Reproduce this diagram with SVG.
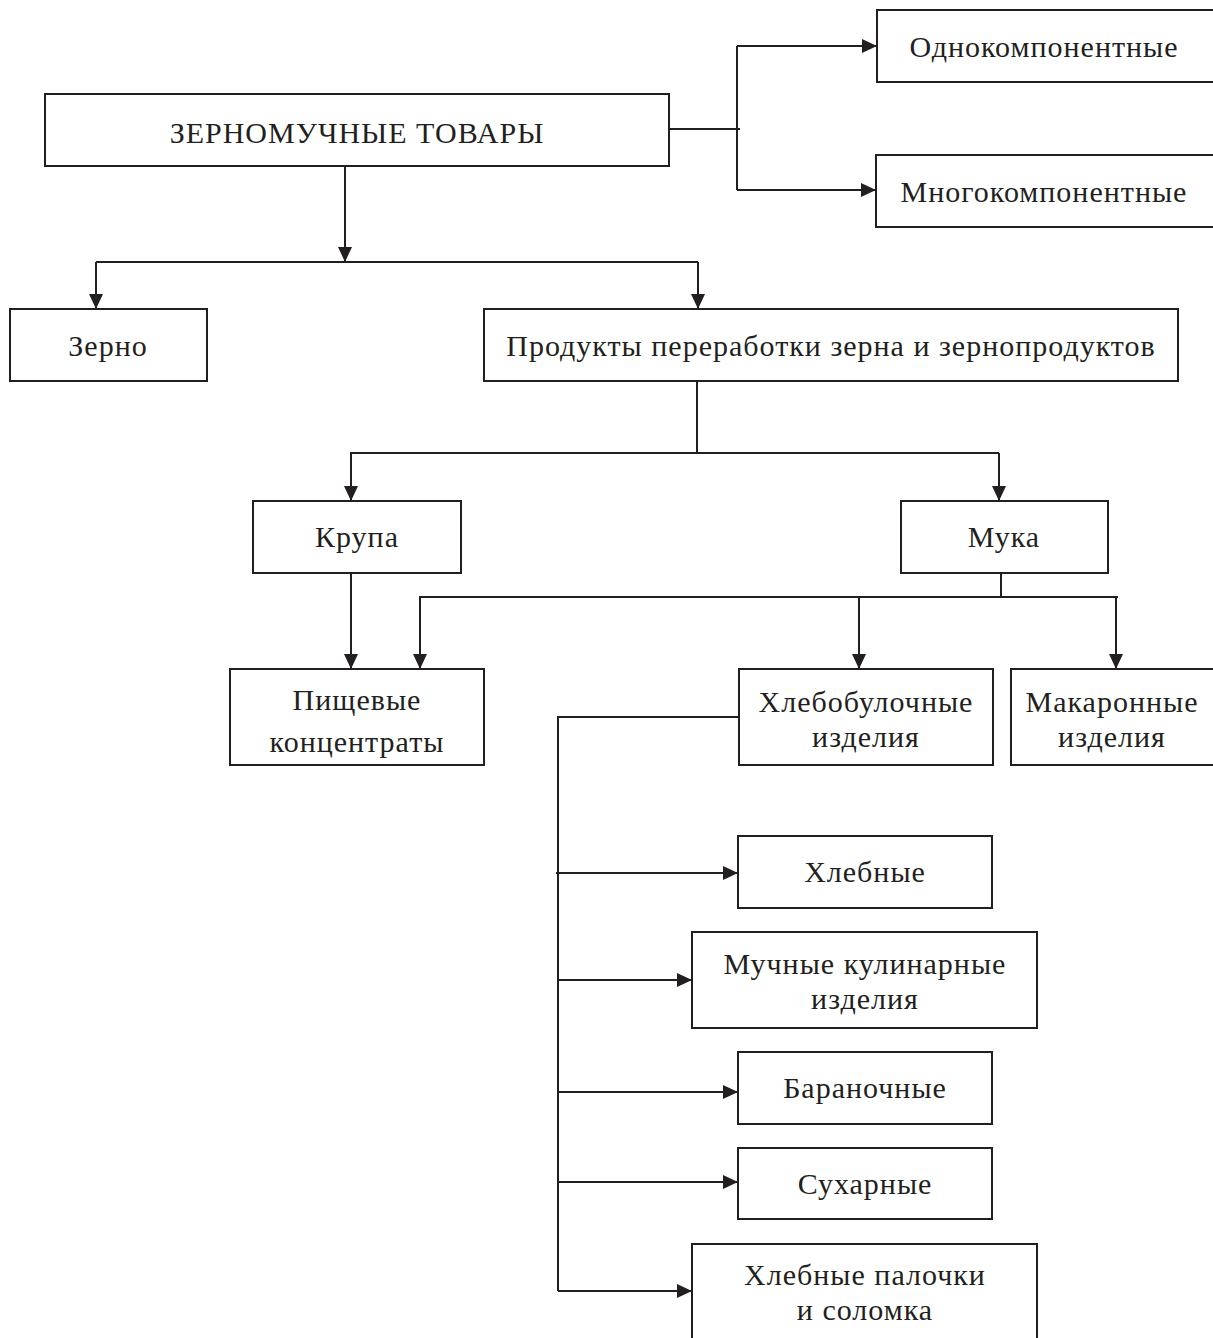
<svg xmlns="http://www.w3.org/2000/svg" width="1213" height="1338" viewBox="0 0 1213 1338">
<style>
.box{fill:#fff;stroke:#231f20;stroke-width:2}
.ln{fill:none;stroke:#231f20;stroke-width:2}
.ar{fill:none;stroke:#231f20;stroke-width:2;marker-end:url(#ah)}
text{font-family:"Liberation Serif","Times New Roman",serif;font-size:30px;letter-spacing:1px;fill:#231f20;text-anchor:middle}
</style>
<defs>
<marker id="ah" viewBox="0 0 15 14" refX="15" refY="7" markerWidth="15" markerHeight="14" markerUnits="userSpaceOnUse" orient="auto">
<path d="M0,0 L15,7 L0,14 z" fill="#231f20"/>
</marker>
</defs>
<rect width="1213" height="1338" fill="#fff"/>
<g id="connectors">
<line class="ln" x1="669" y1="129" x2="740" y2="129"/>
<line class="ln" x1="737" y1="46" x2="737" y2="190"/>
<line class="ar" x1="737" y1="46" x2="877" y2="46"/>
<line class="ar" x1="737" y1="190" x2="876" y2="190"/>
<line class="ar" x1="345" y1="166" x2="345" y2="262"/>
<polyline class="ln" points="96,262 698,262"/>
<line class="ar" x1="96" y1="262" x2="96" y2="309"/>
<line class="ar" x1="698" y1="262" x2="698" y2="309"/>
<line class="ln" x1="697" y1="381" x2="697" y2="453"/>
<line class="ln" x1="350" y1="453" x2="999" y2="453"/>
<line class="ar" x1="351" y1="453" x2="351" y2="501"/>
<line class="ar" x1="999" y1="453" x2="999" y2="501"/>
<line class="ln" x1="1001" y1="573" x2="1001" y2="597"/>
<line class="ln" x1="419" y1="597" x2="1118" y2="597"/>
<line class="ar" x1="420" y1="597" x2="420" y2="669"/>
<line class="ar" x1="859" y1="597" x2="859" y2="669"/>
<line class="ar" x1="1116" y1="597" x2="1116" y2="669"/>
<line class="ar" x1="351" y1="573" x2="351" y2="669"/>
<polyline class="ln" points="739,717 558,717 558,1291"/>
<line class="ar" x1="556" y1="873" x2="738" y2="873"/>
<line class="ar" x1="558" y1="980" x2="692" y2="980"/>
<line class="ar" x1="558" y1="1092" x2="738" y2="1092"/>
<line class="ar" x1="558" y1="1182" x2="738" y2="1182"/>
<line class="ar" x1="558" y1="1291" x2="692" y2="1291"/>
</g>
<g id="n-root"><rect class="box" x="45" y="94" width="624" height="72"/><text x="357" y="143">ЗЕРНОМУЧНЫЕ ТОВАРЫ</text></g>
<g id="n-odno"><rect class="box" x="877" y="10" width="345" height="72"/><text x="1044" y="57">Однокомпонентные</text></g>
<g id="n-mnogo"><rect class="box" x="876" y="155" width="346" height="72"/><text x="1044" y="202">Многокомпонентные</text></g>
<g id="n-zerno"><rect class="box" x="10" y="309" width="197" height="72"/><text x="108" y="356">Зерно</text></g>
<g id="n-produkty"><rect class="box" x="484" y="309" width="694" height="72"/><text x="831" y="356">Продукты переработки зерна и зернопродуктов</text></g>
<g id="n-krupa"><rect class="box" x="253" y="501" width="208" height="72"/><text x="357" y="547">Крупа</text></g>
<g id="n-muka"><rect class="box" x="901" y="501" width="207" height="72"/><text x="1004" y="547">Мука</text></g>
<g id="n-pishch"><rect class="box" x="230" y="669" width="254" height="96"/><text x="357" y="710">Пищевые</text><text x="357" y="752">концентраты</text></g>
<g id="n-hlebobul"><rect class="box" x="739" y="669" width="254" height="96"/><text x="866" y="712">Хлебобулочные</text><text x="866" y="747">изделия</text></g>
<g id="n-makaron"><rect class="box" x="1011" y="669" width="212" height="96"/><text x="1112" y="712">Макаронные</text><text x="1112" y="747">изделия</text></g>
<g id="n-hlebnye"><rect class="box" x="738" y="836" width="254" height="72"/><text x="865" y="882">Хлебные</text></g>
<g id="n-muchnye"><rect class="box" x="692" y="932" width="345" height="96"/><text x="865" y="974">Мучные кулинарные</text><text x="865" y="1009">изделия</text></g>
<g id="n-baranoch"><rect class="box" x="738" y="1052" width="254" height="72"/><text x="865" y="1098">Бараночные</text></g>
<g id="n-suhar"><rect class="box" x="738" y="1148" width="254" height="71"/><text x="865" y="1194">Сухарные</text></g>
<g id="n-palochki"><rect class="box" x="692" y="1244" width="345" height="100"/><text x="865" y="1285">Хлебные палочки</text><text x="865" y="1320">и соломка</text></g>
</svg>
